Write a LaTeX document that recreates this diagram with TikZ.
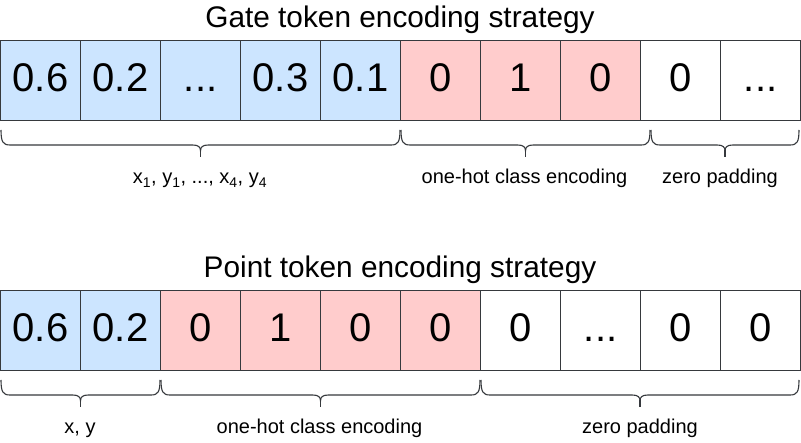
\documentclass[tikz,border=0pt]{standalone}
\usepackage{fontspec}
\setmainfont{Liberation Sans}
\definecolor{cellblue}{HTML}{CCE5FF}
\definecolor{cellred}{HTML}{FFCCCC}
\definecolor{edge}{HTML}{36393D}
\newcommand{\mybrace}[3]{% x0, x1, ytop
  \pgfmathsetmacro{\xm}{(#1+#2)/2}
  \draw[brace] (#1,#3) .. controls (#1,#3+12) and (#1+2,#3+15) .. (#1+9,#3+15)
    -- (\xm-8,#3+15) .. controls (\xm-2,#3+15) and (\xm,#3+17) .. (\xm,#3+21)
    .. controls (\xm,#3+17) and (\xm+2,#3+15) .. (\xm+8,#3+15)
    -- (#2-9,#3+15) .. controls (#2-2,#3+15) and (#2,#3+12) .. (#2,#3);
  \draw[brace] (\xm,#3+20) -- (\xm,#3+27);
}
\begin{document}
\begin{tikzpicture}[x=1pt,y=-1pt,
  cell/.style={draw=edge,line width=1.1pt,minimum width=80pt,minimum height=80pt,inner sep=0pt,
    text height=29pt,text depth=8pt,font=\fontsize{40}{48}\selectfont,anchor=north west},
  bcell/.style={cell,fill=cellblue},
  rcell/.style={cell,fill=cellred},
  wcell/.style={cell,fill=white},
  title/.style={anchor=base,inner sep=0pt,font=\fontsize{29.8}{34}\selectfont},
  lab/.style={anchor=base,inner sep=0pt,font=\fontsize{20}{24}\selectfont},
  brace/.style={draw=edge,line width=1.1pt}]
\useasboundingbox (0,0) rectangle (801,443);
\fill[white] (0,0) rectangle (801,443);
% titles
\node[title] (t1) at (400,27.5) {Gate token encoding strategy};
\node[title] (t2) at (400,277.5) {Point token encoding strategy};
% top row
\node[bcell] (a1) at (0,40) {0.6};
\node[bcell] (a2) at (80,40) {0.2};
\node[bcell] (a3) at (160,40) {...};
\node[bcell] (a4) at (240,40) {0.3};
\node[bcell] (a5) at (320,40) {0.1};
\node[rcell] (a6) at (400,40) {0};
\node[rcell] (a7) at (480,40) {1};
\node[rcell] (a8) at (560,40) {0};
\node[wcell] (a9) at (640,40) {0};
\node[wcell] (a10) at (720,40) {...};
% bottom row
\node[bcell] (b1) at (0,290) {0.6};
\node[bcell] (b2) at (80,290) {0.2};
\node[rcell] (b3) at (160,290) {0};
\node[rcell] (b4) at (240,290) {1};
\node[rcell] (b5) at (320,290) {0};
\node[rcell] (b6) at (400,290) {0};
\node[wcell] (b7) at (480,290) {0};
\node[wcell] (b8) at (560,290) {...};
\node[wcell] (b9) at (640,290) {0};
\node[wcell] (b10) at (720,290) {0};
% braces
\mybrace{1}{400}{130}
\mybrace{401}{650}{130}
\mybrace{651}{799}{130}
\mybrace{1}{160}{380}
\mybrace{161}{480}{380}
\mybrace{481}{799}{380}
% labels
\node[lab] (l1) at (200,184) {x\textsubscript{1}, y\textsubscript{1}, ..., x\textsubscript{4}, y\textsubscript{4}};
\node[lab] (l2) at (524.5,184) {one-hot class encoding};
\node[lab] (l3) at (720,184) {zero padding};
\node[lab] (l4) at (80,434) {x, y};
\node[lab] (l5) at (319.5,434) {one-hot class encoding};
\node[lab] (l6) at (640,434) {zero padding};
\end{tikzpicture}
\end{document}
